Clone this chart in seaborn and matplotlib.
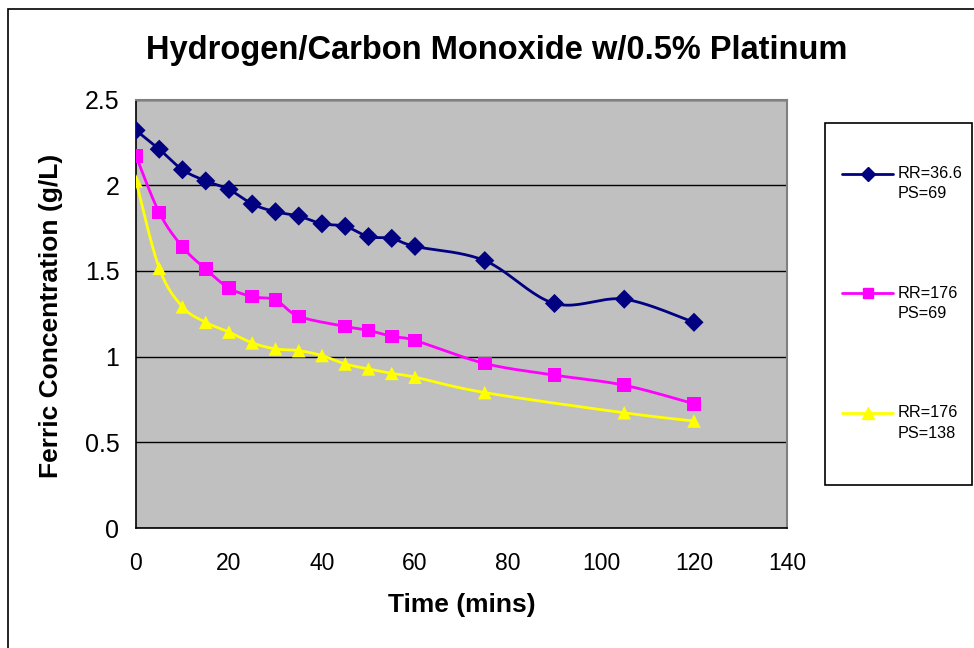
import numpy as np
import pandas as pd
import matplotlib
matplotlib.use("Agg")
import matplotlib.pyplot as plt
from matplotlib.lines import Line2D
from matplotlib.patches import Rectangle
import seaborn as sns

# Ferric concentration readings (g/L) over time (mins)
time_a = [0, 5, 10, 15, 20, 25, 30, 35, 40, 45, 50, 55, 60, 75, 90, 105, 120]
conc_a = [2.32, 2.21, 2.09, 2.025, 1.975, 1.89, 1.845, 1.82, 1.775, 1.76, 1.70, 1.69, 1.643, 1.56, 1.31, 1.335, 1.20]

time_b = [0, 5, 10, 15, 20, 25, 30, 35, 45, 50, 55, 60, 75, 90, 105, 120]
conc_b = [2.17, 1.84, 1.64, 1.51, 1.40, 1.35, 1.33, 1.235, 1.176, 1.153, 1.118, 1.094, 0.96, 0.892, 0.833, 0.725]

time_c = [0, 5, 10, 15, 20, 25, 30, 35, 40, 45, 50, 55, 60, 75, 105, 120]
conc_c = [2.025, 1.515, 1.29, 1.20, 1.143, 1.08, 1.045, 1.035, 1.006, 0.957, 0.928, 0.902, 0.88, 0.79, 0.672, 0.624]

series_labels = ["RR=36.6\nPS=69", "RR=176\nPS=69", "RR=176\nPS=138"]
series_colors = ["#000080", "#FF00FF", "#FFFF00"]
series_markers = ["D", "s", "^"]

title = "Hydrogen/Carbon Monoxide w/0.5% Platinum"
x_label = "Time (mins)"
y_label = "Ferric Concentration (g/L)"
x_ticks = [0, 20, 40, 60, 80, 100, 120, 140]
y_ticks = [0, 0.5, 1, 1.5, 2, 2.5]

frames = []
for lab, t, c in zip(series_labels, [time_a, time_b, time_c], [conc_a, conc_b, conc_c]):
    frames.append(pd.DataFrame({"time": t, "conc": c, "series": lab}))
df = pd.concat(frames, ignore_index=True)


def smooth_curve(x, y, steps=24):
    """Cubic Bezier smoothing through every point (Catmull-Rom tangents)."""
    p = np.column_stack([x, y]).astype(float)
    n = len(p)
    out = [p[0]]
    for i in range(n - 1):
        p0 = p[i - 1] if i > 0 else p[i]
        p1, p2 = p[i], p[i + 1]
        p3 = p[i + 2] if i + 2 < n else p[i + 1]
        c1 = p1 + (p2 - p0) / 6.0
        c2 = p2 - (p3 - p1) / 6.0
        s = np.linspace(0, 1, steps)[1:, None]
        seg = ((1 - s) ** 3) * p1 + 3 * ((1 - s) ** 2) * s * c1 + 3 * (1 - s) * s ** 2 * c2 + s ** 3 * p2
        out.extend(seg)
    out = np.array(out)
    return out[:, 0], out[:, 1]


sns.set_theme(style="white")
plt.rcParams["font.family"] = ["Liberation Sans", "DejaVu Sans"]
plt.rcParams["text.color"] = "black"
plt.rcParams["axes.labelcolor"] = "black"
plt.rcParams["xtick.color"] = "black"
plt.rcParams["ytick.color"] = "black"

W, H = 974, 648
fig = plt.figure(figsize=(W / 100, H / 100), dpi=100)
fig.patch.set_facecolor("white")


def fx(px):
    return px / W


def fy(py):
    return 1 - py / H


ax = fig.add_axes([fx(136), fy(528), 651 / W, 428.5 / H])
ax.set_facecolor("#C0C0C0")

# smoothed connecting lines
for lab, col in zip(series_labels, series_colors):
    sub = df[df["series"] == lab]
    sx, sy = smooth_curve(sub["time"].values, sub["conc"].values)
    ax.plot(sx, sy, color=col, lw=2.0, zorder=3, solid_capstyle="round")

# markers at the recorded readings
sns.scatterplot(
    data=df, x="time", y="conc", hue="series", style="series",
    palette=dict(zip(series_labels, series_colors)),
    markers=dict(zip(series_labels, series_markers)),
    s=95, linewidth=0, ax=ax, legend=False, zorder=5,
)

ax.set_xlim(0, 140)
ax.set_ylim(0, 2.5)
ax.set_xticks(x_ticks)
ax.set_yticks(y_ticks)
ax.set_xticklabels([str(v) for v in x_ticks])
ax.set_yticklabels([f"{v:g}" for v in y_ticks])
ax.tick_params(axis="both", which="major", length=7, width=1,
               color="black", direction="out")
ax.tick_params(axis="x", labelsize=16.5, pad=10)
ax.tick_params(axis="y", labelsize=18, pad=5)
ax.yaxis.grid(True, color="black", lw=1)
ax.xaxis.grid(False)
ax.set_axisbelow(True)
for side in ["top", "right"]:
    ax.spines[side].set_color("#808080")
    ax.spines[side].set_linewidth(1.5)
for side in ["left", "bottom"]:
    ax.spines[side].set_color("black")
    ax.spines[side].set_linewidth(1.2)

ax.set_xlabel(x_label, fontsize=19, fontweight="bold", va="center")
ax.set_ylabel(y_label, fontsize=19, fontweight="bold", va="center")
ax.xaxis.set_label_coords(fx(462), fy(605), transform=fig.transFigure)
ax.yaxis.set_label_coords(fx(51), fy(316), transform=fig.transFigure)

fig.text(fx(497), fy(51), title, ha="center", va="center",
         fontsize=23.5, fontweight="bold")

# legend box with one entry per series
fig.add_artist(Rectangle((fx(825), fy(485)), (972 - 825) / W, (485 - 123) / H,
                         fill=False, edgecolor="black", lw=1.2,
                         transform=fig.transFigure))
legend_rows = [173.5, 293, 412.5]
legend_msizes = [7, 7, 8.5]
for lab, col, mk, ms, row in zip(series_labels, series_colors, series_markers,
                                 legend_msizes, legend_rows):
    fig.add_artist(Line2D([fx(842), fx(893)], [fy(row), fy(row)], color=col, lw=2,
                          transform=fig.transFigure))
    fig.add_artist(Line2D([fx(867.5)], [fy(row)], ls="none", marker=mk, ms=ms,
                          mfc=col, mec=col, transform=fig.transFigure))
    first, second = lab.split("\n")
    fig.text(fx(898), fy(row), first, ha="left", va="center", fontsize=11.7)
    fig.text(fx(898), fy(row + 20.5), second, ha="left", va="center", fontsize=11.7)

# outer chart border
fig.add_artist(Rectangle((fx(7.5), -0.2), 1.2, fy(9) + 0.2, fill=False,
                         edgecolor="black", lw=1.2, transform=fig.transFigure))

fig.savefig("out.png", dpi=100)
